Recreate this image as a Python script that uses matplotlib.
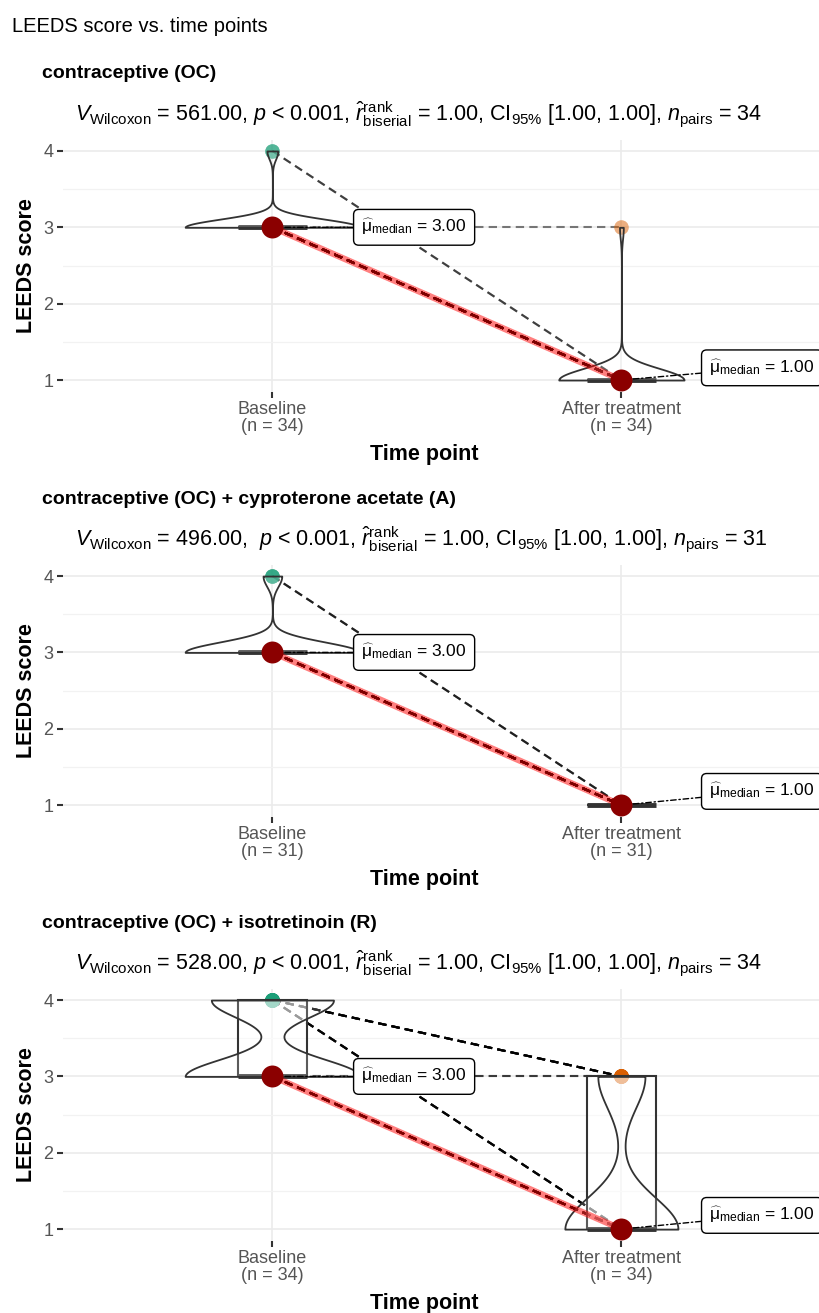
import numpy as np
import matplotlib.pyplot as plt

plt.rcParams['font.family'] = ['Liberation Sans', 'DejaVu Sans']
plt.rcParams['mathtext.fontset'] = 'custom'
plt.rcParams['mathtext.rm'] = 'Liberation Sans'
plt.rcParams['mathtext.it'] = 'Liberation Sans:italic'
plt.rcParams['mathtext.bf'] = 'Liberation Sans:bold'

#%% Data
main_title = "LEEDS score vs. time points"
time_points = ["Baseline", "After treatment"]
group_titles = ["contraceptive (OC)",
                "contraceptive (OC) + cyproterone acetate (A)",
                "contraceptive (OC) + isotretinoin (R)"]

# paired (baseline, after treatment) LEEDS scores and number of subjects per pair
oc_pairs = [(3, 1), (4, 1), (3, 3)]
oc_counts = [31, 2, 1]
oca_pairs = [(3, 1), (4, 1)]
oca_counts = [28, 3]
ocr_pairs = [(3, 1), (4, 1), (4, 3), (3, 3)]
ocr_counts = [18, 6, 8, 2]

v_wilcoxon = [561.00, 496.00, 528.00]
p_text = ["< 0.001", "< 0.001", "< 0.001"]
r_rank = [1.00, 1.00, 1.00]
ci_low = [1.00, 1.00, 1.00]
ci_high = [1.00, 1.00, 1.00]
n_pairs = [34, 31, 34]
stat_sep = [", ", ",  ", ", "]

y_ticks = [1, 2, 3, 4]
y_minor = [1.5, 2.5, 3.5]

#%% helpers
W, H = 819, 1313
fig = plt.figure(figsize=(W / 100, H / 100), dpi=100)

def fx(x):
    return x / W

def fy(y):
    return 1 - y / H

def bw_nrd0(x):
    hi = np.std(x, ddof=1)
    q75, q25 = np.percentile(x, [75, 25])
    lo = min(hi, (q75 - q25) / 1.34)
    if lo == 0:
        lo = hi or abs(x[0]) or 1.0
    return 0.9 * lo * len(x) ** -0.2

def kde(x, grid):
    bw = bw_nrd0(x)
    z = (grid[:, None] - x[None, :]) / bw
    return np.exp(-0.5 * z ** 2).sum(1) / (len(x) * bw * np.sqrt(2 * np.pi))

green = '#1B9E77'
orange = '#D95F02'
dark = '#333333'

panel_tops = [139.5, 564.6, 988.6]
panel_h = 252
left, right = 63, 819
unit_x = 349  # px per category step
after_label_y = [1.16, 1.18, 1.18]

all_pairs = [(oc_pairs, oc_counts), (oca_pairs, oca_counts), (ocr_pairs, ocr_counts)]

fig.text(fx(12), fy(26), main_title, fontsize=14.5, ha='left', va='center')

for k, (pairs, counts) in enumerate(all_pairs):
    top = panel_tops[k]
    ax = fig.add_axes([fx(left), fy(top + panel_h), (right - left) / W, panel_h / H])

    base = np.repeat([p[0] for p in pairs], counts).astype(float)
    after = np.repeat([p[1] for p in pairs], counts).astype(float)
    groups = [base, after]

    # paired points and dashed paths
    for (b, a), c in zip(pairs, counts):
        for _ in range(c):
            ax.plot([1, 2], [b, a], ls=(0, (4, 2.5)), color='black', alpha=0.5, lw=1.5, zorder=2)
    ax.scatter(np.ones(len(base)), base, s=110, color=green, alpha=0.5, lw=0, zorder=2)
    ax.scatter(np.full(len(after), 2.0), after, s=110, color=orange, alpha=0.5, lw=0, zorder=2)

    # boxplots
    ax.boxplot(groups, positions=[1, 2], widths=0.2, showfliers=False, showcaps=False,
               patch_artist=True, manage_ticks=False, zorder=3,
               boxprops=dict(facecolor=(1, 1, 1, 0.5), edgecolor=dark, lw=1.5),
               whiskerprops=dict(color=dark, lw=1.5),
               medianprops=dict(color=dark, lw=3.5))

    # violins (area scaled, trimmed)
    dens = []
    for g in groups:
        grid = np.linspace(g.min(), g.max(), 300)
        dens.append((grid, kde(g, grid)))
    dmax = max(d.max() for _, d in dens)
    for pos, (grid, d) in zip([1, 2], dens):
        hw = 0.25 * d / dmax
        if grid[0] == grid[-1]:
            ax.plot([pos - hw[0], pos + hw[0]], [grid[0], grid[0]], color=dark, lw=1.2, zorder=4)
        else:
            ax.fill_betweenx(grid, pos - hw, pos + hw, facecolor=(1, 1, 1, 0.2),
                             edgecolor=dark, lw=1.3, zorder=4)

    # centrality
    meds = [np.median(base), np.median(after)]
    ax.plot([1, 2], meds, color='red', alpha=0.5, lw=4.5, zorder=5)
    ax.scatter([1, 2], meds, s=250, color='darkred', lw=0, zorder=8)

    label_x = [1.255, 2.252]
    label_y = [meds[0], after_label_y[k]]
    for pos, m, lx, ly in zip([1, 2], meds, label_x, label_y):
        ax.annotate(r'$\widehat{\mathrm{\mu}}_{\mathrm{median}}$ = ' + f'{m:.2f}',
                    xy=(pos, m), xytext=(lx, ly), ha='left', va='center', fontsize=12.5,
                    bbox=dict(boxstyle='round,pad=0.45,rounding_size=0.3', fc='white', ec='black', lw=1),
                    arrowprops=dict(arrowstyle='-', color='black', lw=1, linestyle=(0, (4, 2, 1, 2)),
                                    shrinkA=0, shrinkB=0),
                    zorder=7, annotation_clip=False)

    # axes styling
    ax.set_xlim(0.4, 0.4 + (right - left) / unit_x)
    ax.set_ylim(0.85, 4.15)
    ax.set_yticks(y_ticks)
    ax.set_yticks(y_minor, minor=True)
    ax.set_xticks([1, 2], [f"{t}\n(n = {len(g)})" for t, g in zip(time_points, groups)])
    for s in ax.spines.values():
        s.set_visible(False)
    ax.grid(which='major', color='#EBEBEB', lw=1.2)
    ax.grid(which='minor', axis='y', color='#F2F2F2', lw=0.9)
    ax.set_axisbelow(True)
    ax.tick_params(axis='both', which='major', length=4, width=1.5, color=dark,
                   labelcolor='#555555', labelsize=13, pad=3)
    ax.tick_params(which='minor', length=0)
    for lab in ax.get_xticklabels():
        lab.set_linespacing(1.0)

    ax.set_ylabel("LEEDS score", fontsize=15.5, fontweight='bold')
    ax.yaxis.set_label_coords((27 - left) / (right - left), 0.5)
    ax.yaxis.label.set_va('center')
    ax.set_xlabel("Time point", fontsize=15.5, fontweight='bold')
    ax.xaxis.set_label_coords((424 - left) / (right - left), -63 / panel_h)
    ax.xaxis.label.set_va('center')

    # titles
    fig.text(fx(42), fy(top - 65.5), group_titles[k], fontsize=14, fontweight='bold',
             ha='left', va='center')
    stats = (rf"$V_{{\mathrm{{Wilcoxon}}}}$ = {v_wilcoxon[k]:.2f}{stat_sep[k]}$p$ {p_text[k]}, "
             rf"$\hat{{r}}_{{\mathrm{{biserial}}}}^{{\mathrm{{rank}}}}$ = {r_rank[k]:.2f}, "
             rf"CI$_{{95\%}}$ [{ci_low[k]:.2f}, {ci_high[k]:.2f}], "
             rf"$n_{{\mathrm{{pairs}}}}$ = {n_pairs[k]}")
    fig.text(fx(75), fy(top - 25.5), stats, fontsize=15.5, ha='left', va='center')

fig.savefig('out.png', dpi=100)
